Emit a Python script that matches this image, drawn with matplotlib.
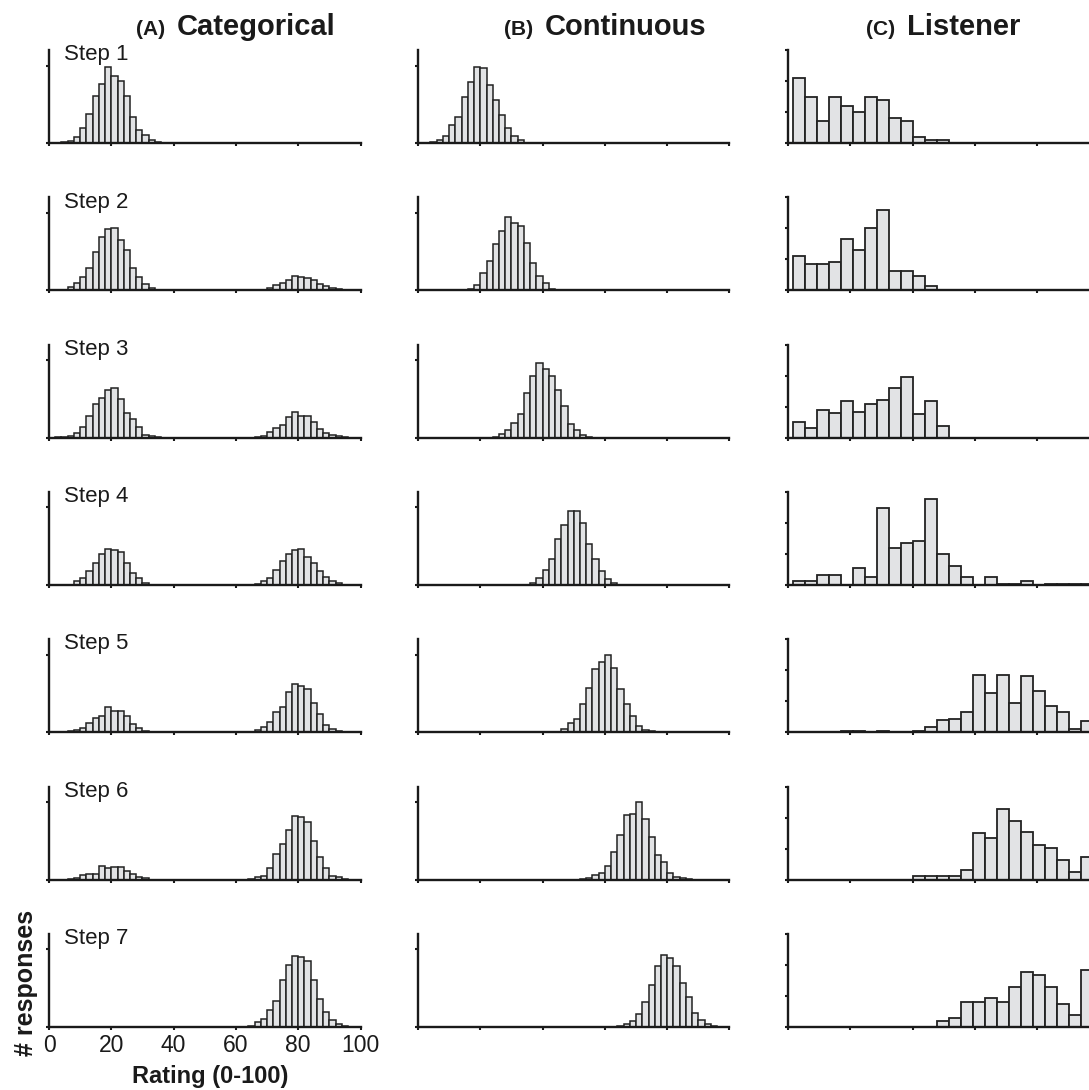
import matplotlib
matplotlib.use("Agg")
import matplotlib.pyplot as plt
import numpy as np

plt.rcParams['font.family'] = ['Liberation Sans', 'DejaVu Sans']

# ---------------- data ----------------
steps = [1, 2, 3, 4, 5, 6, 7]
column_letters = ["(A)", "(B)", "(C)"]
column_names = ["Categorical", "Continuous", "Listener"]
x_ticks = [0, 20, 40, 60, 80, 100]

# categorical / continuous: 2-point bins from 0 to 100
# each entry: (rating where the run of bars starts, bar heights)
cat_step1 = [(4, [1, 2, 8, 19, 38, 61, 76, 98, 86, 80, 61, 34, 17, 10, 3.5, 1])]
cat_step2 = [(2, [0.5, 1, 4, 9, 17, 29, 50, 69, 79, 80, 65, 52, 29, 17, 8.5, 3.4, 1, 0.5]),
             (68, [1, 3.4, 6.4, 9.8, 13.6, 19, 17, 15.7, 12.7, 8.5, 5.5, 3.4, 1.5, 0.8])]
cat_step3 = [(2, [0.5, 0.5, 2, 6.4, 13.7, 28, 43, 51, 62, 64, 50, 32, 24, 14, 3.4, 2, 0.5]),
             (66, [0.5, 2, 7.7, 12.9, 16.7, 27, 33, 27.4, 27.4, 20.6, 11.6, 5.6, 3.4, 2, 0.5])]
cat_step4 = [(4, [0.5, 0.5, 4.4, 8.8, 18.5, 28.7, 39.7, 46.3, 45, 42, 28.7, 15.4, 8.8, 2.2, 0.5]),
             (66, [1.3, 4.4, 8.8, 19.8, 31, 39.7, 45, 46.3, 36, 28.7, 18.5, 9.7, 4.4, 2.2, 0.5])]
cat_step5 = [(6, [1, 3, 5.2, 11.7, 18, 21, 33, 27.6, 26.8, 20.3, 10.4, 5.2, 1.7, 0.5]),
             (60, [0.3, 0.3, 0.5, 3, 7.3, 13.8, 26, 33, 52, 62, 60, 56, 37.6, 23.3, 9.5, 4.3, 1.7, 0.5])]
cat_step6 = [(6, [1, 2, 5.6, 6.5, 7.7, 17.2, 15, 16, 16, 10.8, 6.5, 3.4, 1.7]),
             (64, [1, 3, 5, 15, 33, 46, 64.5, 81.7, 80.4, 74.4, 50, 29, 15, 5, 3.4, 0.5])]
cat_step7 = [(64, [0.5, 6.3, 9.7, 21.4, 33.6, 60, 80, 91, 90, 84.4, 60, 36, 19.3, 8.8, 3.4, 0.5])]

cont_step1 = [(4, [1, 3.5, 8.6, 23, 33.7, 60, 79, 97.6, 96.3, 74.7, 55, 35.8, 19.9, 8.6, 3.5])]
cont_step2 = [(14, [0.5, 1.5, 7.4, 22, 37.5, 59.6, 76, 94, 87, 83, 61, 35.3, 19, 9.6, 2.2, 0.5])]
cont_step3 = [(24, [0.5, 4.4, 10, 19, 30, 57, 80, 96, 89, 80, 61, 41, 17.6, 10, 3, 1])]
cont_step4 = [(34, [0.5, 2, 8.3, 19.5, 34, 58.6, 77.4, 96, 96, 79.7, 52.6, 34, 17.3, 7.5, 2.3, 0.5])]
cont_step5 = [(44, [0.5, 4.4, 11.8, 17, 36, 57, 81.6, 90.4, 100, 83, 56, 36.8, 20.6, 8, 3, 1, 0.5])]
cont_step6 = [(52, [0.5, 1.5, 6, 8, 17, 35, 57, 83, 85, 100, 78, 55, 31.6, 22, 8, 3.7, 2, 0.5])]
cont_step7 = [(64, [0.5, 3.6, 7.3, 16.8, 31.4, 53.3, 79, 92.7, 89, 78, 57, 38.7, 18, 8.8, 3.6, 1])]

# listener: 25 bins
lis_edges = np.linspace(1.6, 97.9, 26)
lis_step1 = [21, 15, 7, 15, 12, 10, 15, 14, 8, 7, 2, 1, 1]
lis_step2 = [11, 8.5, 8.5, 9.2, 16.4, 13, 20, 26, 6.3, 6.3, 4.5, 1.3]
lis_step3 = [5, 3.1, 9, 8, 11.8, 8.2, 10.9, 12, 15.9, 19.7, 7.7, 11.8, 3.7]
lis_step4 = [1.1, 1.1, 3.3, 3.3, 0, 5.3, 2.4, 24.9, 11.8, 13.5, 14.1, 27.8, 10,
             6.2, 2.4, 0, 2.4, 0.4, 0.4, 1.1, 0, 0.4, 0.4, 0.4, 0.4]
lis_step5 = [0, 0, 0, 0, 0.5, 0.5, 0, 0.5, 0, 0, 0.5, 1.6, 3.8, 4.3, 6.4, 18.4,
             12.6, 18.4, 9.4, 18, 13.3, 8.3, 6.4, 1.1, 3.5]
lis_step6 = [0] * 10 + [1.2, 1.2, 1.2, 1.2, 3.2, 14.9, 13.3, 22.7, 18.9, 15.4, 11, 10.1, 6.2, 2.4, 7.4]
lis_step7 = [0] * 12 + [1.9, 2.9, 8.1, 8.1, 9.2, 8.1, 13, 17.8, 16.8, 12.8, 7.2, 3.8, 18.4]

cat_data = [cat_step1, cat_step2, cat_step3, cat_step4, cat_step5, cat_step6, cat_step7]
cont_data = [cont_step1, cont_step2, cont_step3, cont_step4, cont_step5, cont_step6, cont_step7]
lis_data = [lis_step1, lis_step2, lis_step3, lis_step4, lis_step5, lis_step6, lis_step7]


def fill_bins(segments, width=2, n=50):
    vals = np.zeros(n)
    for start, seg in segments:
        i = int(round(start / width))
        vals[i:i + len(seg)] = seg
    return vals


# ---------------- layout ----------------
W, H = 1089, 1090
fig = plt.figure(figsize=(W / 100, H / 100), dpi=100)

col_left = [49, 418, 788]
ax_w, ax_h = 311.5, 93
face = '#e2e3e5'
edge = '#222222'
spine_c = '#1a1a1a'


def make_ax(col, row):
    bottom = 143 + row * 147.3
    return fig.add_axes([col_left[col] / W, 1 - bottom / H, ax_w / W, ax_h / H])


def style(ax, ymax, yticks, labels=False):
    ax.set_xlim(0, 100)
    ax.set_ylim(0, ymax)
    ax.set_xticks(x_ticks)
    ax.set_yticks(yticks)
    for s in ['top', 'right']:
        ax.spines[s].set_visible(False)
    for s in ['left', 'bottom']:
        ax.spines[s].set_linewidth(1.7)
        ax.spines[s].set_color(spine_c)
    ax.tick_params(direction='out', length=2.5, width=1.5, color=spine_c,
                   labelsize=16.5, pad=3, labelcolor='#1a1a1a')
    ax.tick_params(axis='y', labelleft=False)
    if not labels:
        ax.tick_params(axis='x', labelbottom=False)
    ax.patch.set_visible(False)


for r, s in enumerate(steps):
    # (A) categorical
    ax = make_ax(0, r)
    vals = fill_bins(cat_data[r])
    ax.bar(np.arange(0, 100, 2), vals, width=2, align='edge',
           color=face, edgecolor=edge, linewidth=1.1)
    style(ax, 120, [0, 100], labels=(r == 6))
    ax.text(0.048, 0.89, f"Step {s}", transform=ax.transAxes, fontsize=16,
            va='baseline', ha='left', color='#1a1a1a')
    if r == 6:
        ax.set_xticklabels([str(t) for t in x_ticks])

    # (B) continuous
    ax = make_ax(1, r)
    vals = fill_bins(cont_data[r])
    ax.bar(np.arange(0, 100, 2), vals, width=2, align='edge',
           color=face, edgecolor=edge, linewidth=1.1)
    style(ax, 120, [0, 100])

    # (C) listener
    ax = make_ax(2, r)
    lv = np.zeros(25)
    lv[:len(lis_data[r])] = lis_data[r]
    ax.bar(lis_edges[:-1], lv, width=np.diff(lis_edges), align='edge',
           color=face, edgecolor=edge, linewidth=1.3)
    style(ax, 30, [0, 10, 20, 30])

# column titles
word_left = [177, 545, 907]
for letter, name, x in zip(column_letters, column_names, word_left):
    fig.text(x / W, 1 - 35 / H, name, fontsize=21, fontweight='bold',
             ha='left', va='baseline', color='#1a1a1a')
    fig.text((x - 12) / W, 1 - 35 / H, letter, fontsize=15, fontweight='bold',
             ha='right', va='baseline', color='#1a1a1a')

fig.text(26 / W, 1 - 983 / H, "# responses", rotation=90, fontsize=18,
         fontweight='bold', ha='center', va='center', color='#1a1a1a')
fig.text(210 / W, 1 - 1076 / H, "Rating (0-100)", fontsize=17,
         fontweight='bold', ha='center', va='center', color='#1a1a1a')

fig.savefig("out.png", dpi=100)
